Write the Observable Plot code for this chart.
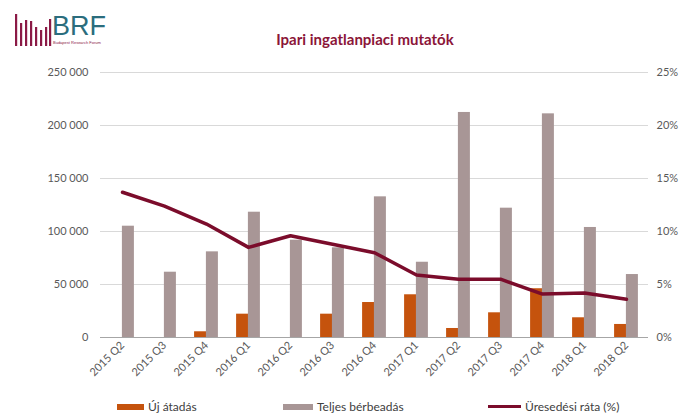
<!DOCTYPE html>
<html>
<head>
<meta charset="utf-8">
<script src="https://cdn.jsdelivr.net/npm/d3@7"></script>
<script src="https://cdn.jsdelivr.net/npm/@observablehq/plot@0.6"></script>
<style>
  html, body { margin: 0; padding: 0; background: #fff; }
  #wrap { position: relative; width: 684px; height: 414px; overflow: hidden; font-family: Lato, "Liberation Sans", sans-serif; }
  #chart { position: absolute; left: 0; top: 0; }
  #title { position: absolute; left: 0; width: 684px; top: 30px; text-align: center; font-weight: bold; font-size: 15px; color: #8b1538; padding-left: 46px; box-sizing: border-box; }
  #logo { position: absolute; left: 12px; top: 8px; }
  #legend { position: absolute; top: 399px; left: 0; width: 684px; height: 16px; font-size: 12px; color: #404040; }
  .item { position: absolute; top: 0; display: flex; align-items: center; gap: 4px; }
  .sw { display: inline-block; }
</style>
</head>
<body>
<div id="wrap">
  <div id="chart"></div>
  <svg id="logo" width="110" height="44" viewBox="0 0 110 44">
    <g fill="#8b1a46">
      <rect x="3" y="6" width="2.2" height="32"/>
      <rect x="8" y="15" width="2.2" height="23"/>
      <rect x="13" y="12" width="2.2" height="26"/>
      <rect x="18" y="13" width="2.2" height="25"/>
      <rect x="23" y="19" width="2.2" height="19"/>
      <rect x="28" y="22" width="2.2" height="16"/>
      <rect x="33" y="19" width="2.2" height="19"/>
      <rect x="37" y="11" width="2.2" height="27"/>
    </g>
    <text x="40" y="27" font-family="Liberation Sans, Arial, sans-serif" font-size="27" fill="#2b6d7d">BRF</text>
    <text x="41" y="36" font-family="Liberation Sans, Arial, sans-serif" font-size="4" fill="#8b1a46">Budapest Research Forum</text>
  </svg>
  <div id="title">Ipari ingatlanpiaci mutatók</div>
  <div id="legend">
    <div class="item" style="left:117px"><span class="sw" style="width:27px;height:6px;background:#c5530d"></span><span>Új átadás</span></div>
    <div class="item" style="left:283px"><span class="sw" style="width:30px;height:6px;background:#a89696"></span><span>Teljes bérbeadás</span></div>
    <div class="item" style="left:488px"><span class="sw" style="width:33px;height:3px;background:#7b0c2b"></span><span>Üresedési ráta (%)</span></div>
  </div>
</div>
<script>
const quarters = ["2015 Q2","2015 Q3","2015 Q4","2016 Q1","2016 Q2","2016 Q3","2016 Q4","2017 Q1","2017 Q2","2017 Q3","2017 Q4","2018 Q1","2018 Q2"];
const newSupply = [0, 0, 5400, 22000, 0, 22000, 33000, 40300, 8500, 23300, 46000, 18600, 12300];
const totalLeasing = [105000, 61600, 80800, 118200, 91800, 84600, 132700, 71000, 212300, 122000, 211000, 103800, 59400];
const vacancyRate = [13.7, 12.4, 10.7, 8.5, 9.6, 8.8, 8.0, 5.9, 5.5, 5.5, 4.1, 4.2, 3.6];
const leftTicks = [0, 50000, 100000, 150000, 200000, 250000];
const rightTicks = [0, 5, 10, 15, 20, 25];

const data = quarters.map((q, i) => ({q, newSupply: newSupply[i], total: totalLeasing[i], vac: vacancyRate[i]}));
const RATIO = 10000;
const fmt = d => d3.format(",")(d).replace(/,/g, " ");

const chart = Plot.plot({
  width: 684,
  height: 392,
  marginTop: 72,
  marginLeft: 100,
  marginRight: 36,
  marginBottom: 55,
  style: {fontFamily: "Lato, 'Liberation Sans', sans-serif", fontSize: "11px", color: "#595959", background: "transparent"},
  x: {domain: quarters, paddingInner: 0.725, paddingOuter: 0.3625, label: null},
  y: {domain: [0, 250000], label: null},
  marks: [
    Plot.gridY(leftTicks.slice(1), {stroke: "#d9d9d9", strokeOpacity: 1}),
    Plot.barY(data, {x: "q", y: "newSupply", fill: "#c5530d", dx: -5.9}),
    Plot.barY(data, {x: "q", y: "total", fill: "#a89696", dx: 5.9}),
    Plot.ruleY([0], {stroke: "#a6a6a6"}),
    Plot.lineY(data, {x: "q", y: d => d.vac * RATIO, stroke: "#7b0c2b", strokeWidth: 3.5}),
    Plot.axisY(leftTicks, {anchor: "left", tickSize: 0, tickPadding: 12, tickFormat: fmt, label: null}),
    Plot.axisY(rightTicks.map(v => v * RATIO), {anchor: "right", tickSize: 0, tickPadding: 8, tickFormat: d => (d / RATIO) + "%", label: null}),
    Plot.axisX({tickRotate: -45, tickSize: 0, tickPadding: 6, label: null})
  ]
});
document.getElementById("chart").appendChild(chart);
</script>
</body>
</html>
